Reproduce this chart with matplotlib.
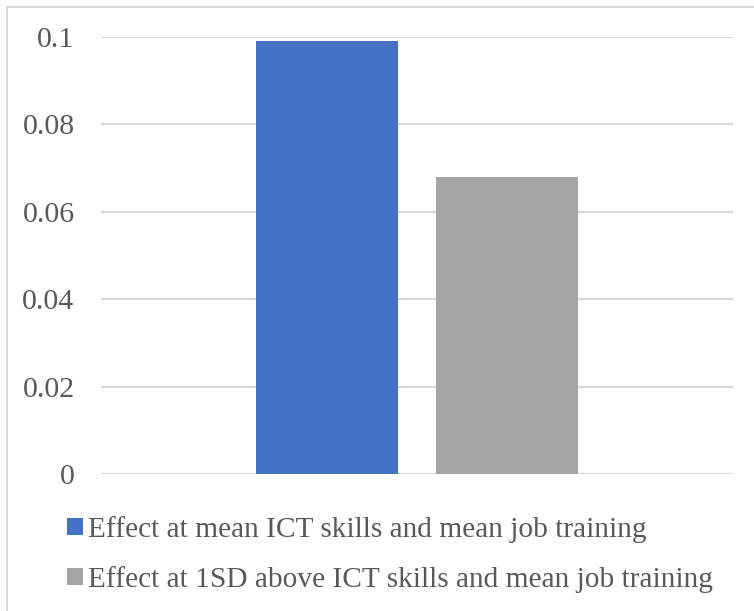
import matplotlib
matplotlib.use("Agg")
import matplotlib.pyplot as plt
from matplotlib.patches import Rectangle

# Estimated effects
series_labels = [
    "Effect at mean ICT skills and mean job training",
    "Effect at 1SD above ICT skills and mean job training",
]
series_values = [0.099, 0.068]
series_colors = ["#4472C4", "#A5A5A5"]
y_ticks = [0, 0.02, 0.04, 0.06, 0.08, 0.1]
y_tick_labels = ["0", "0.02", "0.04", "0.06", "0.08", "0.1"]

W, H = 754, 611
fig = plt.figure(figsize=(W / 100, H / 100), dpi=100)
plt.rcParams["font.family"] = ["Liberation Serif", "DejaVu Serif"]

# chart frame
fig.patches.append(Rectangle((7 / W, -0.05), 1.2, 1 - 7 / H + 0.05,
                             transform=fig.transFigure, fill=False,
                             edgecolor="#D9D9D9", linewidth=1.5))

left, right = 101 / W, 733 / W
bottom, top = 1 - 474 / H, 1 - 37 / H
ax = fig.add_axes([left, bottom, right - left, top - bottom])

bar_w = 0.2247
offsets = [-0.1424, 0.1424]
handles = []
for off, v, c, lab in zip(offsets, series_values, series_colors, series_labels):
    h = ax.bar(off, v, width=bar_w, color=c, label=lab, zorder=3)
    handles.append(h)

ax.set_xlim(-0.5, 0.5)
ax.set_ylim(0, 0.1)
ax.set_xticks([])
ax.set_yticks(y_ticks)
ax.set_yticklabels(y_tick_labels)
ax.tick_params(axis="y", length=0, pad=19, labelsize=21.5, labelcolor="#595959")
ax.grid(axis="y", color="#D9D9D9", linewidth=1.6, zorder=0)
for s in ax.spines.values():
    s.set_visible(False)

leg = fig.legend(handles=handles, labels=series_labels,
                 loc="upper left", bbox_to_anchor=(67 / W, 1 - 516 / H),
                 frameon=False, fontsize=21.2, labelcolor="#595959",
                 handlelength=0.53, handleheight=0.53, handletextpad=0.2,
                 labelspacing=0.77, borderaxespad=0, borderpad=0)

fig.savefig("out.png", dpi=100)
